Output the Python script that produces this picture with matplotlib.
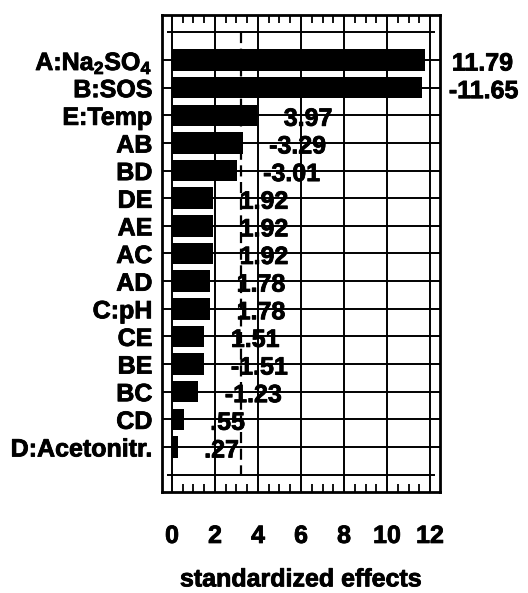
import matplotlib
matplotlib.use("Agg")
import matplotlib.pyplot as plt
import matplotlib.patheffects as pe
import numpy as np

plt.rcParams['font.family'] = ['Liberation Sans', 'DejaVu Sans']
plt.rcParams['font.weight'] = 'bold'
plt.rcParams['mathtext.fontset'] = 'custom'
plt.rcParams['mathtext.rm'] = 'Liberation Sans:bold'
plt.rcParams['mathtext.bf'] = 'Liberation Sans:bold'
plt.rcParams['mathtext.it'] = 'Liberation Sans:bold'

factors = [r'A:Na$_2$SO$_4$', 'B:SOS', 'E:Temp', 'AB', 'BD', 'DE', 'AE', 'AC',
           'AD', 'C:pH', 'CE', 'BE', 'BC', 'CD', 'D:Acetonitr.']
effects = [11.79, -11.65, 3.97, -3.29, -3.01, 1.92, 1.92, 1.92,
           1.78, 1.78, 1.51, -1.51, -1.23, 0.55, 0.27]
value_labels = ['11.79', '-11.65', '3.97', '-3.29', '-3.01', '1.92', '1.92', '1.92',
                '1.78', '1.78', '1.51', '-1.51', '-1.23', '.55', '.27']
critical = 3.19
xticks = [0, 2, 4, 6, 8, 10, 12]

W, H = 528, 593
fig = plt.figure(figsize=(W/100, H/100), dpi=100)
ax = fig.add_axes([162/W, 1 - 492/H, 278/W, 477/H])

fs = 18
thick = [pe.withStroke(linewidth=0.6, foreground='black')]
rows = np.arange(len(factors))
ax.barh(rows, np.abs(effects), height=0.78, color='black', zorder=3)

ax.set_xlim(-0.465, 12.465)
ax.set_ylim(15.63, -1.63)

ax.set_xticks(xticks)
ax.set_xticks(np.arange(0, 12.01, 0.5), minor=True)
ax.set_yticks(rows)
ax.set_yticklabels(factors, fontsize=fs, fontweight='bold')
ax.set_xticklabels([str(t) for t in xticks], fontsize=fs, fontweight='bold')
for lbl in ax.get_xticklabels() + ax.get_yticklabels():
    lbl.set_path_effects(thick)
ax.tick_params(axis='x', which='major', length=0, pad=23)
ax.tick_params(axis='x', which='minor', direction='in', length=6, width=1.3,
               top=True, bottom=True)
ax.tick_params(axis='y', which='major', length=0, pad=7)
ax.grid(True, which='major', color='black', linewidth=1.4, zorder=1)
ax.set_axisbelow(True)

ax.hlines([-1, 15], -0.23, 12.23, color='black', linewidth=1.4, zorder=2)
ax.vlines(critical, -1, 15, color='black', linewidth=1.6, linestyles=(0, (5, 2.5)), zorder=4)

for sp in ax.spines.values():
    sp.set_linewidth(2)

for i, (v, t) in enumerate(zip(effects, value_labels)):
    ax.annotate(t, (abs(v), i), xytext=(19, -2.5), textcoords='offset points',
                ha='left', va='center', fontsize=fs, fontweight='bold', zorder=5,
                path_effects=thick)

ax.set_xlabel('standardized effects', fontsize=fs, fontweight='bold', labelpad=14,
              path_effects=thick)

fig.savefig('out.png', dpi=100)
